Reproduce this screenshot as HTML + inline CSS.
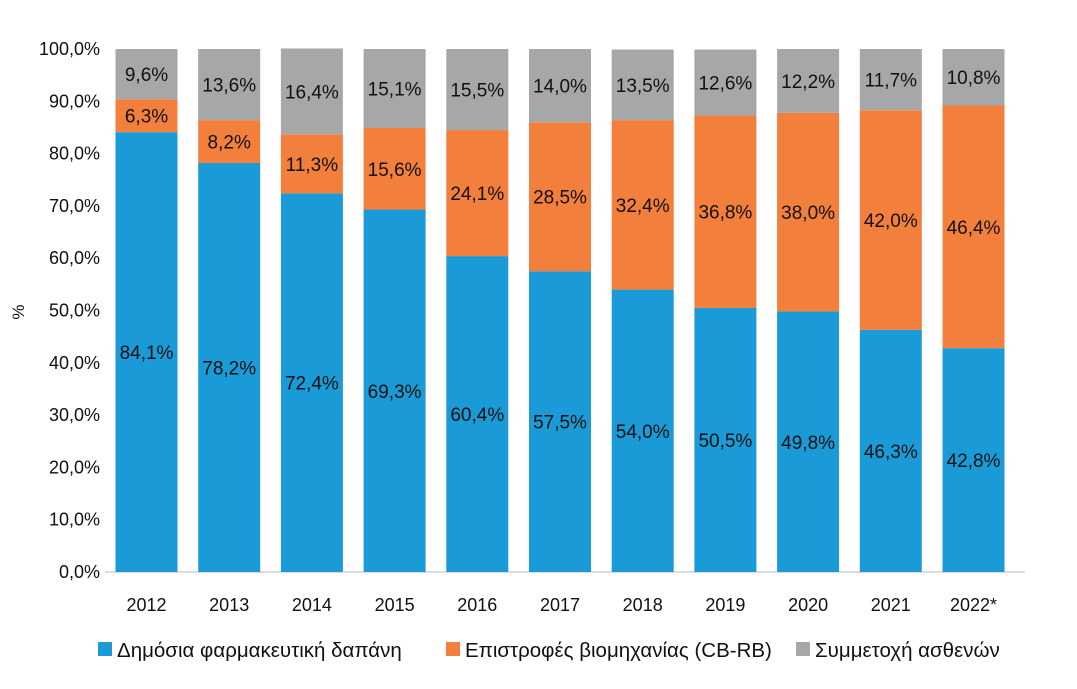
<!DOCTYPE html>
<html><head><meta charset="utf-8"><style>
body{margin:0;background:#fff;font-family:"Liberation Sans",sans-serif}
text{font-family:"Liberation Sans",sans-serif;fill:#111}
</style></head><body>
<svg id="c" width="1077" height="684"></svg>
<script>
const years=["2012","2013","2014","2015","2016","2017","2018","2019","2020","2021","2022*"];
const publicSpend=[84.1,78.2,72.4,69.3,60.4,57.5,54.0,50.5,49.8,46.3,42.8];
const rebates=[6.3,8.2,11.3,15.6,24.1,28.5,32.4,36.8,38.0,42.0,46.4];
const patient=[9.6,13.6,16.4,15.1,15.5,14.0,13.5,12.6,12.2,11.7,10.8];
const yTicks=[0,10,20,30,40,50,60,70,80,90,100];
const svg=document.getElementById('c');const NS='http://www.w3.org/2000/svg';
const y0=572,y1=49;const Y=v=>y0-(v/100)*(y0-y1);
const X=i=>146.5+i*82.7;const bw=62;
function mk(t,a,p){const e=document.createElementNS(NS,t);for(const k in a)e.setAttribute(k,a[k]);(p||svg).appendChild(e);return e;}
const fmt=v=>v.toFixed(1).replace('.',',')+'%';
yTicks.forEach(v=>{const t=mk('text',{x:100,y:Y(v)+6,'text-anchor':'end','font-size':18});t.textContent=fmt(v);

});
const yt=mk('text',{x:24,y:312,'font-size':17,'text-anchor':'middle',transform:'rotate(-90 24 312)'});yt.textContent='%';


const ax=mk('line',{x1:105,x2:1025,y1:y0,y2:y0,stroke:'#bbb','stroke-width':1});


const series=[[publicSpend,'#1a9ad6','bar-public'],[rebates,'#f27f3b','bar-rebates'],[patient,'#a6a7a9','bar-patient']];
years.forEach((yr,i)=>{let base=0;
series.forEach(([arr,col,nm])=>{const v=arr[i];const top=base+v;
const r=mk('rect',{x:X(i)-bw/2,y:Y(top),width:bw,height:Y(base)-Y(top),fill:col});


const t=mk('text',{x:X(i),y:(Y(base)+Y(top))/2+7,'text-anchor':'middle','font-size':19});t.textContent=fmt(v);


base=top;});
const l=mk('text',{x:X(i),y:611,'text-anchor':'middle','font-size':18});l.textContent=yr;

});
const leg=[['Δημόσια φαρμακευτική δαπάνη','#1a9ad6',98],['Επιστροφές βιομηχανίας (CB-RB)','#f27f3b',446],['Συμμετοχή ασθενών','#a6a7a9',796]];
leg.forEach(([txt,col,x])=>{const g=mk('g',{});


mk('rect',{x:x,y:642,width:14,height:14,fill:col},g);
const t=mk('text',{x:x+19,y:657,'font-size':20.5},g);t.textContent=txt;});
</script>
</body></html>
